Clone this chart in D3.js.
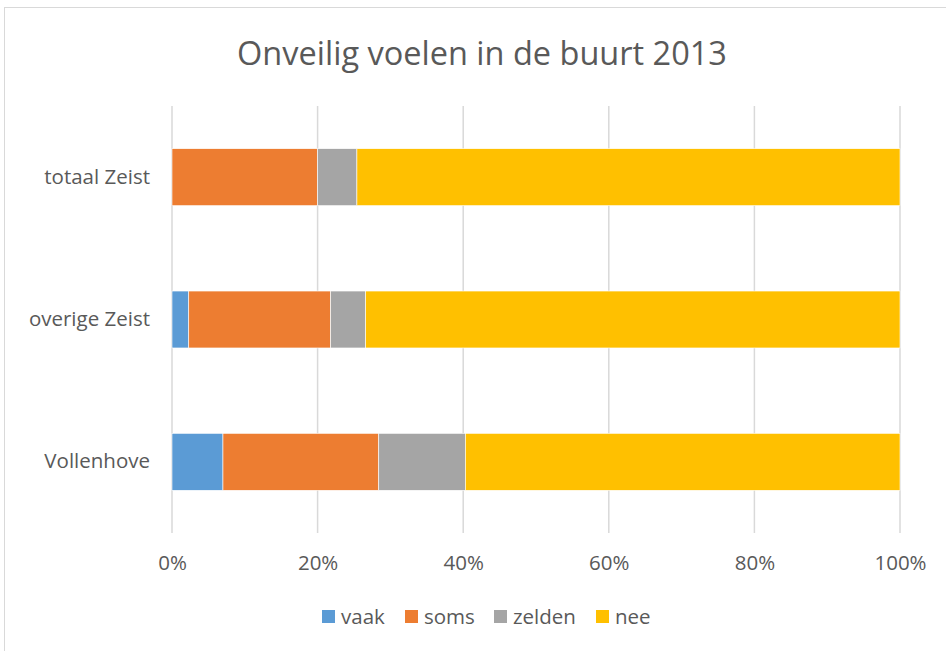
<!DOCTYPE html>
<html>
<head>
<meta charset="utf-8">
<script src="https://cdn.jsdelivr.net/npm/d3@7"></script>
<style>
  body { margin: 0; background: #fff; }
  text { font-family: "Open Sans", "Noto Sans", sans-serif; fill: #595959; }
</style>
</head>
<body>
<svg id="chart"></svg>
<script>
// data (percent)
const categories = ["totaal Zeist", "overige Zeist", "Vollenhove"];
const seriesNames = ["vaak", "soms", "zelden", "nee"];
const vaak = [0, 2.3, 7.0];
const soms = [20.0, 19.5, 21.4];
const zelden = [5.4, 4.8, 11.9];
const nee = [74.6, 73.4, 59.7];
const tickValues = [0, 0.2, 0.4, 0.6, 0.8, 1];
const colors = ["#5b9bd5", "#ed7d31", "#a5a5a5", "#ffc000"];

const w = 946, h = 651;
const svg = d3.select("#chart").attr("width", w).attr("height", h);

// chart frame
svg.append("rect")
  .attr("x", 4.5).attr("y", 7.5)
  .attr("width", w + 10).attr("height", h + 10)
  .attr("fill", "#fff").attr("stroke", "#d9d9d9");

const rows = categories.map((c, i) => ({
  cat: c, vaak: vaak[i] / 100, soms: soms[i] / 100, zelden: zelden[i] / 100, nee: nee[i] / 100
}));
const stacked = d3.stack().keys(seriesNames)(rows);

const x = d3.scaleLinear().domain([0, 1]).range([172, 900]);
const y = d3.scaleBand().domain(categories).range([106, 533]).paddingInner(0.6).paddingOuter(0.3);

// gridlines
svg.append("g")
  .selectAll("line")
  .data(tickValues)
  .join("line")
    .attr("x1", d => x(d)).attr("x2", d => x(d))
    .attr("y1", 106).attr("y2", 533)
    .attr("stroke", "#d9d9d9").attr("stroke-width", 1.5);

// bars
svg.append("g")
  .selectAll("g")
  .data(stacked)
  .join("g")
    .attr("fill", (d, i) => colors[i])
  .selectAll("rect")
  .data(d => d)
  .join("rect")
    .attr("x", d => x(d[0]))
    .attr("y", d => y(d.data.cat))
    .attr("width", d => x(d[1]) - x(d[0]))
    .attr("height", y.bandwidth())
    .attr("stroke", "#fff").attr("stroke-width", 0.6);

// x axis
const xAxis = svg.append("g")
  .attr("transform", "translate(0,533)")
  .call(d3.axisBottom(x).tickValues(tickValues).tickFormat(d3.format(".0%")).tickSize(0).tickPadding(22));
xAxis.select(".domain").remove();
xAxis.selectAll("text").style("font-size", "20.5px").style("font-family", "'Open Sans', sans-serif").attr("fill", "#595959");

// y axis
const yAxis = svg.append("g")
  .attr("transform", "translate(172,0)")
  .call(d3.axisLeft(y).tickSize(0).tickPadding(22));
yAxis.select(".domain").remove();
yAxis.selectAll("text").style("font-size", "20.5px").style("font-family", "'Open Sans', sans-serif").attr("fill", "#595959");

// title
svg.append("text")
  .attr("x", 482).attr("y", 65)
  .attr("text-anchor", "middle")
  .style("font-size", "32.5px")
  .text("Onveilig voelen in de buurt 2013");

// legend
const legendX = [322, 405, 494, 596];
const legend = svg.append("g")
  .selectAll("g")
  .data(seriesNames)
  .join("g")
    .attr("transform", (d, i) => `translate(${legendX[i]},610)`);
legend.append("rect")
  .attr("width", 13).attr("height", 13)
  .attr("fill", (d, i) => colors[i]);
legend.append("text")
  .attr("x", 19).attr("y", 14)
  .style("font-size", "20.5px")
  .text(d => d);
</script>
</body>
</html>
